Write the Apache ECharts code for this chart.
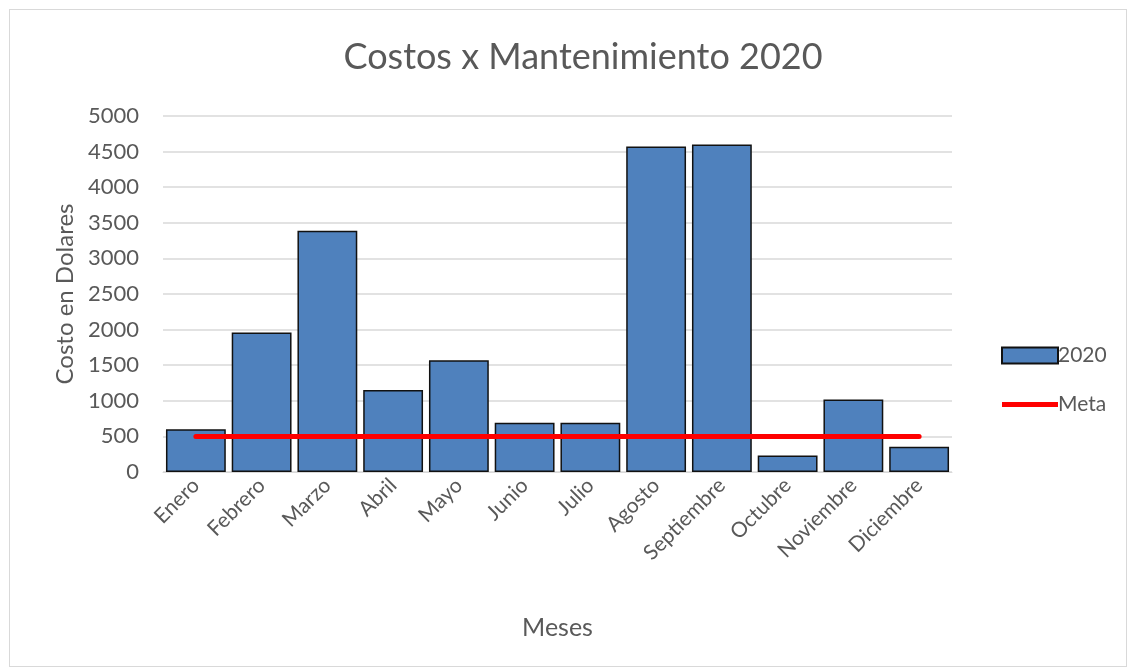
<!DOCTYPE html>
<html>
<head>
<meta charset="utf-8">
<script src="https://cdn.jsdelivr.net/npm/echarts@6/dist/echarts.min.js"></script>
<style>
  html, body { margin: 0; padding: 0; background: #fff; }
  #frame { position: absolute; left: 9px; top: 9px; width: 1118px; height: 658px; border: 1px solid #d9d9d9; box-sizing: border-box; }
  #chart { position: absolute; left: 0; top: 0; width: 1130px; height: 670px; }
</style>
</head>
<body>
<div id="frame"></div>
<div id="chart"></div>
<script>
// Monthly maintenance costs for 2020 and the monthly target
const meses = ['Enero', 'Febrero', 'Marzo', 'Abril', 'Mayo', 'Junio', 'Julio', 'Agosto', 'Septiembre', 'Octubre', 'Noviembre', 'Diciembre'];
const costos2020 = [600, 1960, 3390, 1150, 1570, 690, 690, 4570, 4600, 230, 1020, 355];
const meta = [500, 500, 500, 500, 500, 500, 500, 500, 500, 500, 500, 500];
const yTicks = { min: 0, max: 5000, interval: 500 };

const font = 'Lato, "Open Sans", sans-serif';
const gray = '#595959';

// thin bar inside the legend box, used as the target line symbol
const lineIcon = 'path://M0,0 M0,5.5 L56,5.5 L56,10.5 L0,10.5 Z M56,16';

const chart = echarts.init(document.getElementById('chart'), null, { renderer: 'canvas' });
chart.setOption({
  backgroundColor: 'transparent',
  animation: false,
  title: {
    text: 'Costos x Mantenimiento 2020',
    left: 578, top: 34, textAlign: 'center',
    textStyle: { fontFamily: font, fontSize: 36, fontWeight: 'normal', color: gray }
  },
  legend: {
    orient: 'vertical',
    left: 996, top: 340,
    itemWidth: 56, itemHeight: 16, itemGap: 28,
    textStyle: { fontFamily: font, fontSize: 21, color: gray, padding: [0, 0, 0, -5] },
    data: [
      { name: '2020', icon: 'rect' },
      { name: 'Meta', icon: lineIcon, itemStyle: { color: '#ff0000', borderWidth: 0 } }
    ]
  },
  grid: { left: 163, right: 178, top: 116, bottom: 198 },
  xAxis: {
    type: 'category',
    data: meses,
    name: 'Meses',
    nameLocation: 'middle',
    nameGap: 143,
    nameTextStyle: { fontFamily: font, fontSize: 25, color: gray },
    axisLine: { lineStyle: { color: '#d9d9d9', width: 1 } },
    axisTick: { show: false },
    axisLabel: { rotate: 45, margin: 10, fontFamily: font, fontSize: 21, color: gray, interval: 0 }
  },
  yAxis: {
    type: 'value',
    min: yTicks.min, max: yTicks.max, interval: yTicks.interval,
    name: 'Costo en Dolares',
    nameLocation: 'middle',
    nameGap: 86,
    nameTextStyle: { fontFamily: font, fontSize: 24, color: gray },
    axisLine: { show: false },
    axisTick: { show: false },
    axisLabel: { margin: 24, fontFamily: font, fontSize: 22, color: gray, formatter: v => String(v) },
    splitLine: { lineStyle: { color: '#d9d9d9', width: 1.5 } }
  },
  series: [
    {
      name: '2020',
      type: 'bar',
      data: costos2020,
      barCategoryGap: '9%',
      itemStyle: { color: '#4f81bd', borderColor: '#111', borderWidth: 1.5 }
    },
    {
      name: 'Meta',
      type: 'line',
      data: meta,
      symbol: 'none',
      lineStyle: { color: '#ff0000', width: 5, cap: 'round' },
      itemStyle: { color: '#ff0000' }
    }
  ]
});
</script>
</body>
</html>
